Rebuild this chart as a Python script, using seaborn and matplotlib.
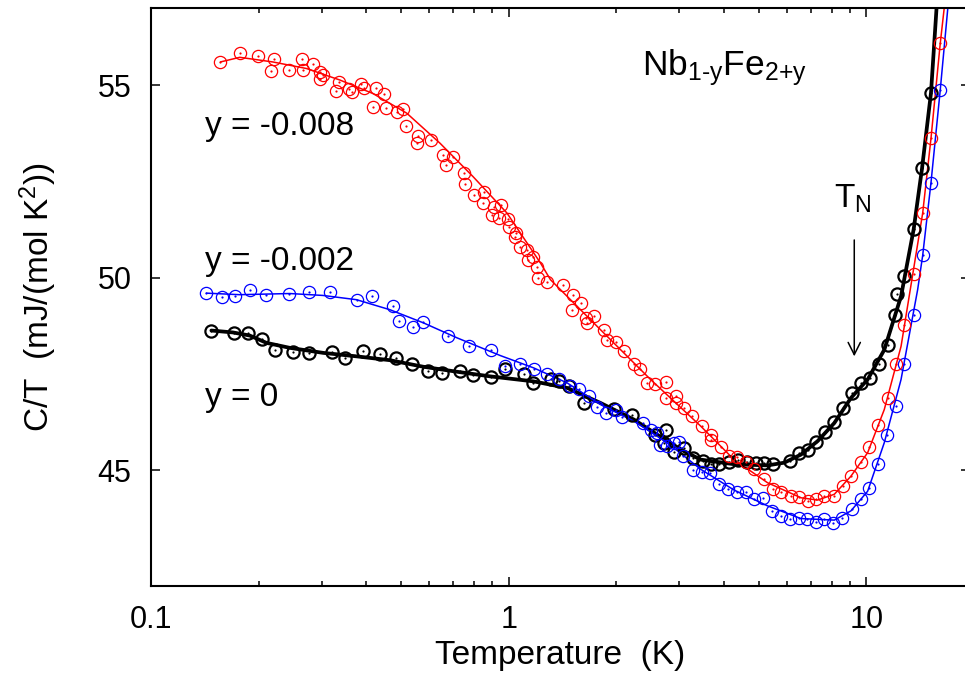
import matplotlib
matplotlib.use("Agg")
import matplotlib.pyplot as plt
from matplotlib.ticker import LogLocator, NullFormatter, FixedLocator
import seaborn as sns
import pandas as pd

# ---------------- data ----------------
# y = -0.008 (red)
red_T = [0.1564, 0.1771, 0.1987, 0.2201, 0.216, 0.2425, 0.2642, 0.2662, 0.2836, 0.2968,
         0.303, 0.2968, 0.3346, 0.3284, 0.358, 0.3641, 0.3866, 0.3937, 0.4255, 0.448,
         0.4175, 0.4543, 0.487, 0.5067, 0.516, 0.557, 0.554, 0.607, 0.654, 0.700,
         0.669, 0.751, 0.756, 0.801, 0.855, 0.850, 0.912, 0.952, 0.899, 0.942,
         0.998, 1.005, 1.051, 1.043, 1.078, 1.128, 1.135, 1.173, 1.204, 1.211,
         1.281, 1.423, 1.518, 1.589, 1.505, 1.641, 1.727, 1.658, 1.842, 1.885,
         1.990, 2.095, 2.235, 2.337, 2.440, 2.574, 2.747, 2.747, 2.929, 2.929,
         3.085, 3.263, 3.481, 3.672, 3.672, 3.917, 4.124, 4.362, 4.603, 4.846,
         5.168, 5.468, 5.771, 6.153, 6.481, 6.855, 7.232, 7.614, 8.122, 8.590,
         9.059, 9.669, 10.18, 10.76, 11.47, 12.10, 12.75, 13.58, 14.38, 15.17, 16.07]
red_C = [55.60, 55.84, 55.75, 55.67, 55.37, 55.39, 55.67, 55.39, 55.54, 55.34,
         55.26, 55.15, 55.09, 54.84, 54.90, 54.83, 55.03, 54.92, 54.92, 54.77,
         54.44, 54.40, 54.31, 54.39, 53.94, 53.68, 53.50, 53.58, 53.19, 53.13,
         52.93, 52.72, 52.44, 52.15, 52.23, 51.94, 51.84, 51.89, 51.63, 51.55,
         51.53, 51.32, 51.17, 51.06, 50.80, 50.73, 50.47, 50.54, 50.28, 50.00,
         49.90, 49.82, 49.56, 49.35, 49.17, 48.96, 49.00, 48.83, 48.65, 48.39,
         48.32, 48.09, 47.75, 47.62, 47.28, 47.23, 47.29, 46.89, 46.92, 46.76,
         46.63, 46.41, 46.15, 45.93, 45.80, 45.60, 45.37, 45.34, 45.21, 45.03,
         44.77, 44.51, 44.43, 44.33, 44.30, 44.20, 44.25, 44.33, 44.33, 44.59,
         44.85, 45.21, 45.60, 46.19, 46.89, 47.75, 48.78, 50.10, 51.68, 53.63, 56.09]
red_fit_T = [0.1564, 0.1771, 0.219, 0.272, 0.3376, 0.4175, 0.519, 0.643, 0.796, 0.989,
             1.226, 1.309, 1.807, 2.493, 3.443, 4.269, 5.296, 6.566, 7.311, 8.14,
             9.06, 10.09, 11.23, 12.51, 14.38, 15.17, 16.10, 16.75]
red_fit_C = [55.60, 55.72, 55.60, 55.43, 55.13, 54.78, 54.27, 53.49, 52.62, 51.68,
             50.39, 49.95, 48.65, 47.36, 46.15, 45.28, 44.68, 44.29, 44.23, 44.38,
             44.85, 45.46, 46.58, 48.22, 51.68, 53.62, 56.08, 57.5]

# y = -0.002 (blue)
blue_T = [0.1428, 0.1584, 0.1715, 0.1888, 0.2103, 0.2429, 0.2764, 0.3162, 0.3756, 0.4145,
          0.476, 0.4945, 0.5396, 0.5755, 0.676, 0.7755, 0.8905, 0.9746, 1.073, 1.175,
          1.281, 1.381, 1.489, 1.578, 1.675, 1.768, 1.877, 1.990, 2.078, 2.379,
          2.493, 2.603, 2.647, 2.776, 2.898, 2.993, 3.080, 3.285, 3.466, 3.657,
          3.875, 4.116, 4.343, 4.603, 4.856, 5.147, 5.433, 5.771, 6.105, 6.467,
          6.823, 7.232, 7.630, 8.085, 8.571, 9.105, 9.669, 10.20, 10.76, 11.42,
          12.10, 12.77, 13.57, 14.38, 15.17, 16.10]
blue_C = [49.60, 49.49, 49.52, 49.69, 49.56, 49.58, 49.62, 49.63, 49.43, 49.52,
          49.26, 48.89, 48.72, 48.86, 48.48, 48.24, 48.13, 47.70, 47.76, 47.64,
          47.51, 47.38, 47.20, 47.12, 46.94, 46.65, 46.49, 46.56, 46.39, 46.24,
          46.04, 45.96, 45.65, 45.63, 45.72, 45.73, 45.37, 45.01, 44.97, 44.94,
          44.66, 44.53, 44.45, 44.45, 44.25, 44.29, 43.95, 43.82, 43.75, 43.76,
          43.75, 43.65, 43.75, 43.63, 43.76, 44.01, 44.27, 44.55, 45.16, 45.91,
          46.68, 47.75, 49.04, 50.58, 52.47, 54.87]
blue_fit_T = [0.1428, 0.1771, 0.2445, 0.303, 0.3756, 0.4656, 0.5773, 0.7172, 0.948, 1.175,
              1.458, 1.807, 2.239, 2.776, 3.443, 4.269, 5.296, 6.566, 8.14, 9.06,
              10.09, 11.23, 12.51, 13.92, 14.38, 15.17, 16.10, 17.1]
blue_fit_C = [49.60, 49.56, 49.59, 49.54, 49.43, 49.17, 48.83, 48.44, 47.98, 47.66,
              47.27, 46.71, 46.28, 45.72, 45.03, 44.49, 44.08, 43.75, 43.71, 43.95,
              44.46, 45.72, 47.36, 49.69, 50.58, 52.47, 54.87, 57.5]

# y = 0 (black)
black_T = [0.1475, 0.1706, 0.1867, 0.2049, 0.2219, 0.2487, 0.277, 0.3198, 0.3486, 0.3923,
           0.4369, 0.4836, 0.5362, 0.5932, 0.6518, 0.7326, 0.7933, 0.8913, 0.9771, 1.107,
           1.168, 1.310, 1.382, 1.473, 1.623, 1.970, 2.218, 2.561, 2.762, 2.719,
           2.900, 3.093, 3.287, 3.484, 3.675, 3.878, 4.120, 4.367, 4.628, 4.915,
           5.186, 5.474, 6.136, 6.475, 6.863, 7.240, 7.673, 8.149, 8.634, 9.133,
           9.681, 10.27, 10.84, 11.48, 12.05, 12.15, 12.78, 13.57, 14.32, 15.17]
black_C = [48.63, 48.57, 48.57, 48.42, 48.13, 48.06, 48.05, 48.06, 47.91, 48.09,
           48.01, 47.92, 47.77, 47.59, 47.53, 47.57, 47.47, 47.42, 47.64, 47.51,
           47.28, 47.38, 47.33, 47.18, 46.74, 46.60, 46.45, 45.93, 46.04, 45.72,
           45.47, 45.59, 45.33, 45.24, 45.16, 45.16, 45.22, 45.28, 45.23, 45.20,
           45.18, 45.16, 45.24, 45.46, 45.54, 45.73, 45.99, 46.25, 46.61, 47.01,
           47.27, 47.40, 47.76, 48.25, 49.04, 49.58, 50.05, 51.26, 52.84, 54.80]
black_fit_T = [0.1475, 0.1695, 0.1888, 0.2103, 0.2445, 0.303, 0.3756, 0.4656, 0.5773, 0.7172,
               0.8886, 1.175, 1.458, 1.807, 2.239, 2.776, 3.091, 3.443, 4.269, 5.296,
               5.896, 6.566, 7.311, 8.14, 9.06, 10.09, 11.23, 12.51, 13.57, 14.32,
               15.17, 15.85]
black_fit_C = [48.63, 48.58, 48.50, 48.31, 48.18, 48.05, 47.96, 47.86, 47.69, 47.56,
               47.44, 47.31, 47.14, 46.75, 46.32, 45.76, 45.50, 45.28, 45.16, 45.13,
               45.20, 45.41, 45.76, 46.23, 46.88, 47.36, 48.13, 49.52, 51.26, 52.84,
               54.80, 57.5]

series_labels = ["y = -0.008", "y = -0.002", "y = 0"]
x_ticks = [0.1, 1, 10]
x_tick_labels = ["0.1", "1", "10"]
y_ticks = [45, 50, 55]
y_tick_labels = ["45", "50", "55"]

# ---------------- style ----------------
sns.set_style("ticks")
plt.rcParams["font.family"] = ["Liberation Sans", "DejaVu Sans"]
plt.rcParams["mathtext.fontset"] = "custom"
plt.rcParams["mathtext.rm"] = "Liberation Sans"
plt.rcParams["mathtext.it"] = "Liberation Sans"
plt.rcParams["mathtext.default"] = "regular"
for k in ["text.color", "axes.labelcolor", "xtick.color", "ytick.color",
          "axes.edgecolor"]:
    plt.rcParams[k] = "black"

fig = plt.figure(figsize=(9.65, 6.95), dpi=100)
ax = fig.add_axes([151 / 965, (695 - 586) / 695, (970 - 151) / 965, (586 - 8) / 695])
ax.set_xscale("log")


def draw(T, C, fitT, fitC, color, lw, mew):
    fit = pd.DataFrame({"T": fitT, "C": fitC})
    pts = pd.DataFrame({"T": T, "C": C})
    sns.lineplot(data=fit, x="T", y="C", ax=ax, color=color, linewidth=lw,
                 sort=False, estimator=None, zorder=2)
    sns.lineplot(data=pts, x="T", y="C", ax=ax, color=color, linestyle="",
                 marker="o", markersize=8.8, markerfacecolor="none",
                 markeredgecolor=color, markeredgewidth=mew,
                 sort=False, estimator=None, zorder=3)
    sns.lineplot(data=pts, x="T", y="C", ax=ax, color=color, linestyle="",
                 marker="o", markersize=1.6, markerfacecolor=color,
                 markeredgecolor=color, markeredgewidth=0,
                 sort=False, estimator=None, zorder=3)


draw(black_T, black_C, black_fit_T, black_fit_C, "black", 2.7, 1.6)
draw(blue_T, blue_C, blue_fit_T, blue_fit_C, "#0000ff", 1.1, 0.9)
draw(red_T, red_C, red_fit_T, red_fit_C, "#ff0000", 1.1, 0.9)

ax.set_xlim(0.1, 19.5)
ax.set_ylim(42, 57)

ax.xaxis.set_major_locator(FixedLocator(x_ticks))
ax.set_xticklabels(x_tick_labels)
ax.xaxis.set_minor_locator(LogLocator(base=10, subs=[2, 3, 4, 5, 6, 7, 8, 9]))
ax.xaxis.set_minor_formatter(NullFormatter())
ax.set_yticks(y_ticks)
ax.set_yticklabels(y_tick_labels)

ax.tick_params(which="both", direction="in", top=True, right=True, width=1.1,
               color="black")
ax.tick_params(which="major", length=6.5, labelsize=22)
ax.tick_params(axis="x", which="major", pad=14)
ax.tick_params(axis="y", which="major", pad=14)
ax.tick_params(which="minor", length=3.6)
for s in ax.spines.values():
    s.set_linewidth(1.5)
    s.set_color("black")

ax.set_xlabel("Temperature  (K)", fontsize=24, labelpad=3)
ax.set_ylabel("C/T  (mJ/(mol K$^2$))", fontsize=24, labelpad=28)

# annotations
ax.text(0.1414, 53.70, series_labels[0], fontsize=24, ha="left", va="baseline")
ax.text(0.1414, 50.21, series_labels[1], fontsize=24, ha="left", va="baseline")
ax.text(0.1414, 46.68, series_labels[2], fontsize=24, ha="left", va="baseline")
ax.text(2.353, 55.26, "Nb$_{1\u2010y}$Fe$_{2{+}y}$", fontsize=25.5, ha="left", va="baseline")
ax.text(8.12, 51.81, "T$_N$", fontsize=24, ha="left", va="baseline")
ax.annotate("", xy=(9.256, 47.96), xytext=(9.256, 50.98),
            arrowprops=dict(arrowstyle="->", color="black", lw=1.1,
                            mutation_scale=22, shrinkA=0, shrinkB=0))

fig.savefig("out.png", dpi=100)
